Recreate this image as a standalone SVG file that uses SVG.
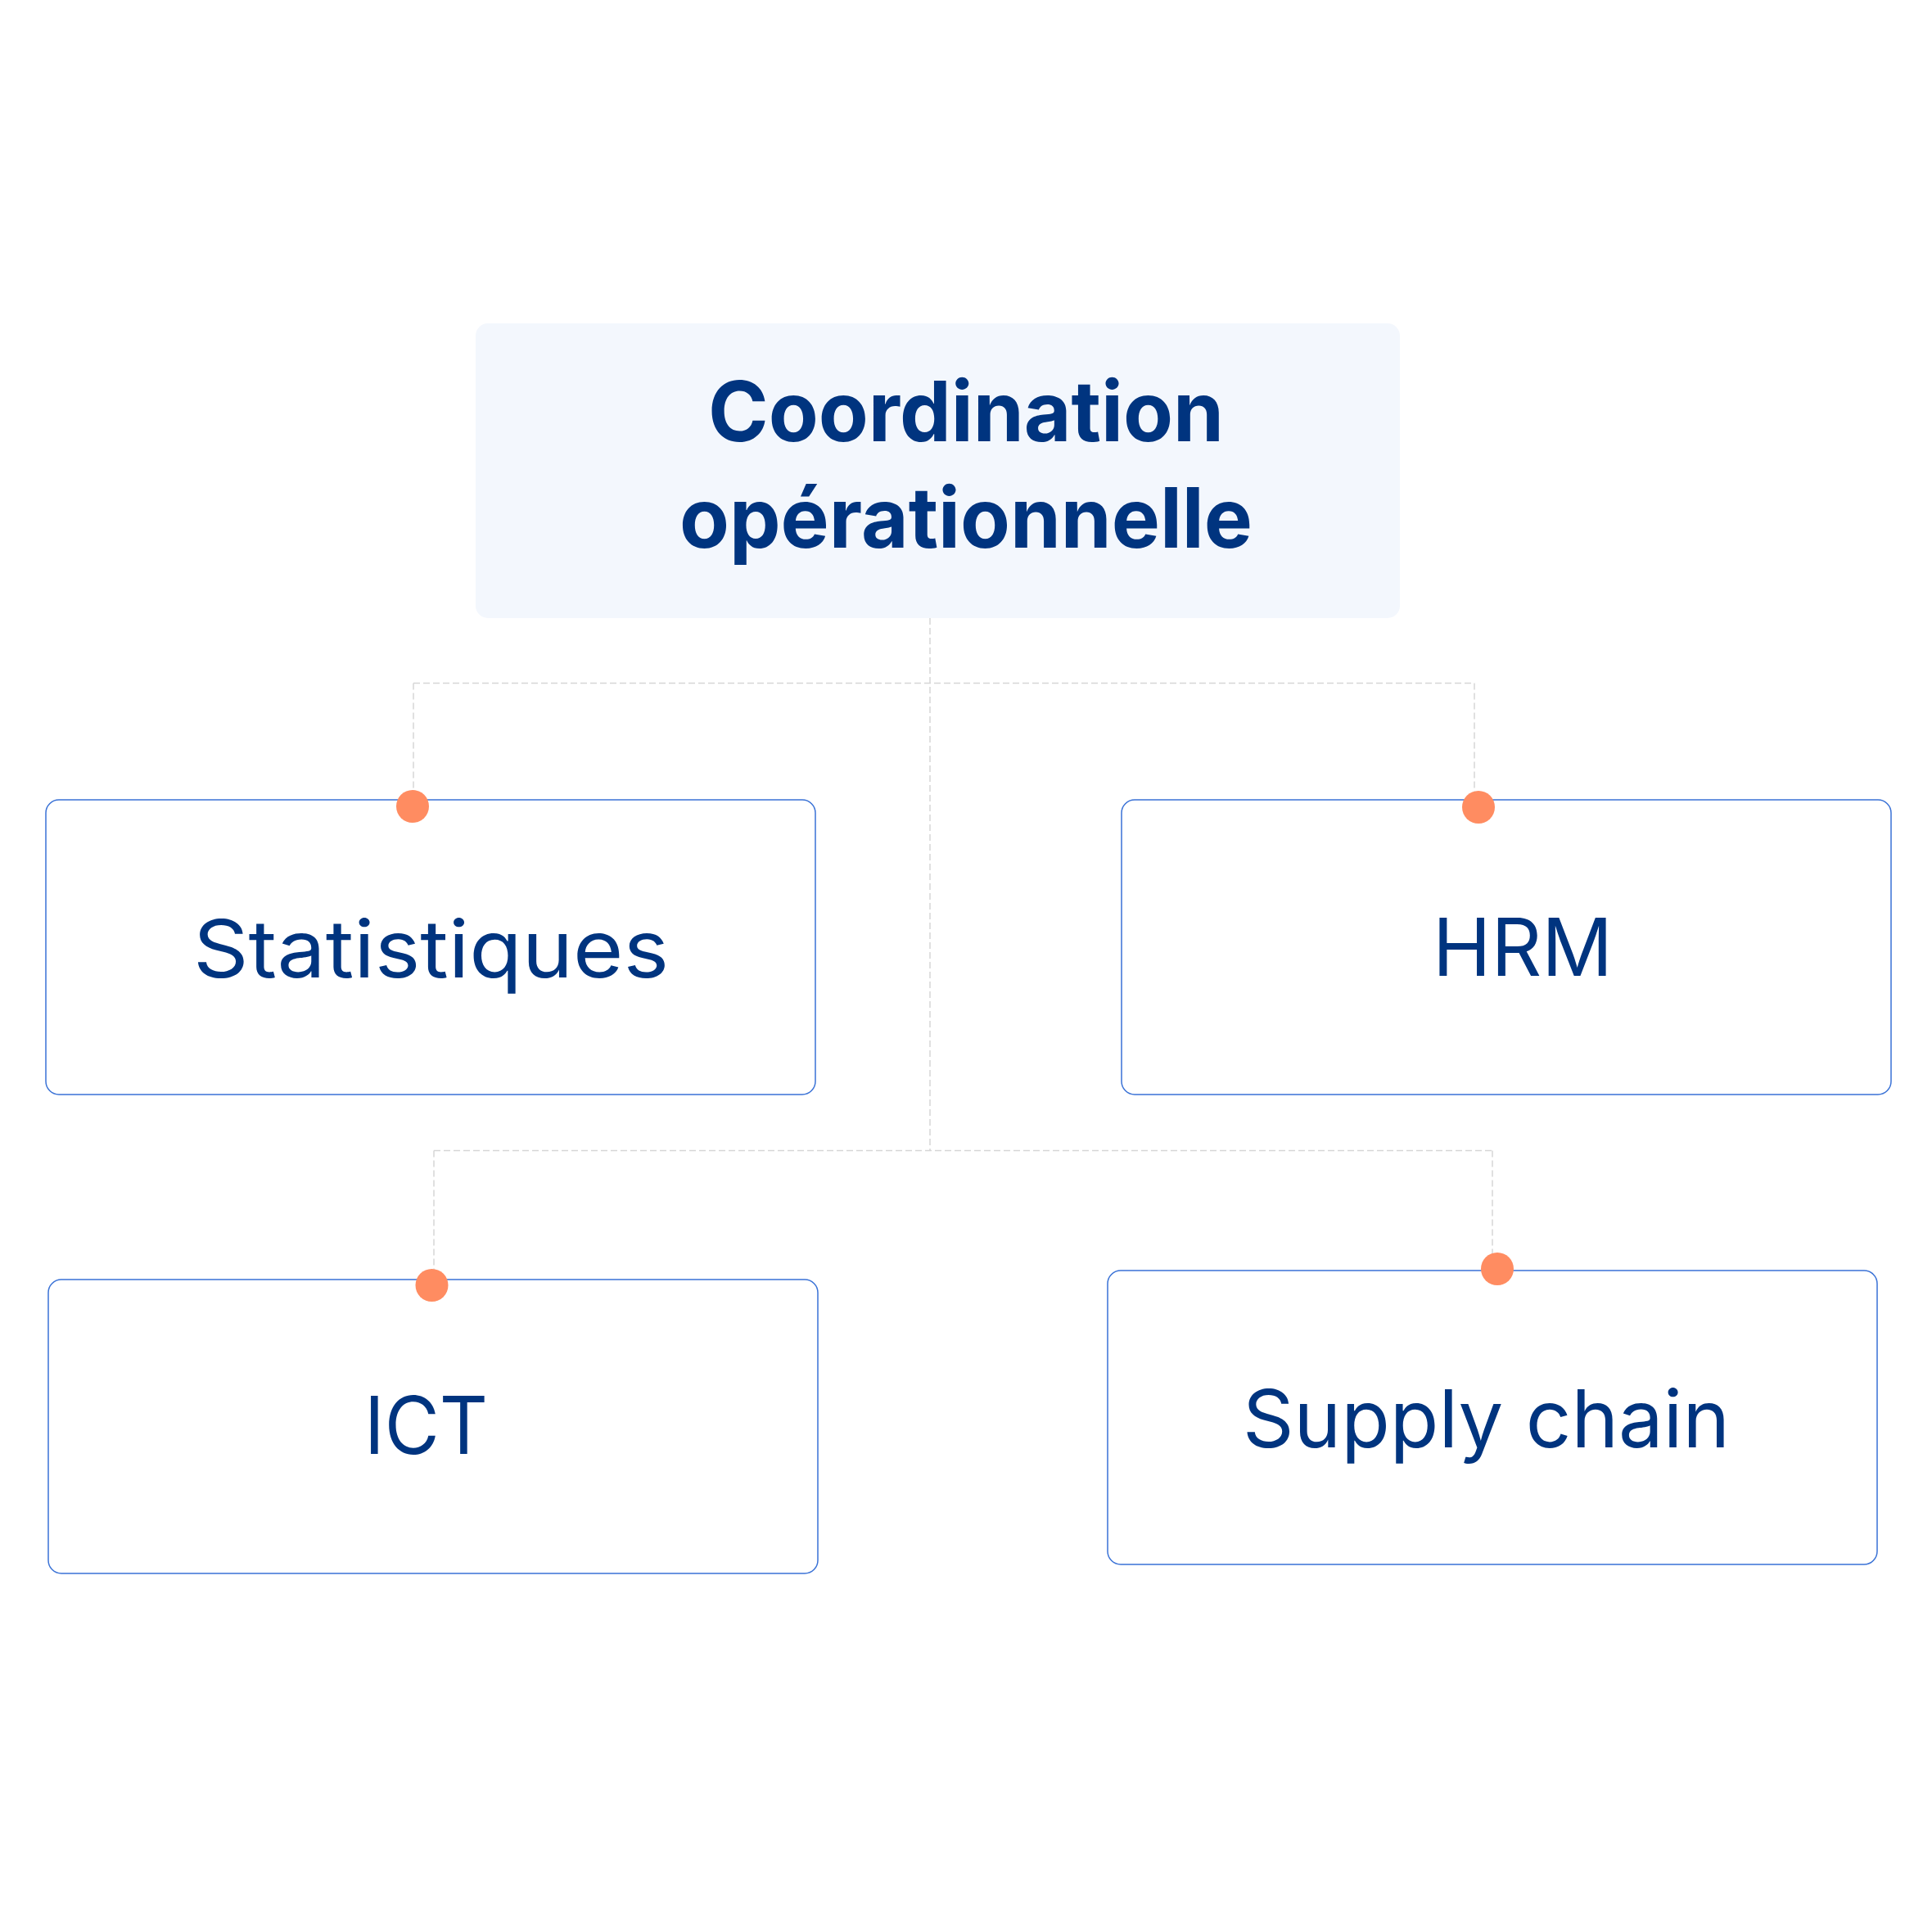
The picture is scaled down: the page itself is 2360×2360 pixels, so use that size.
<svg xmlns="http://www.w3.org/2000/svg" width="2360" height="2360" viewBox="0 0 2360 2360">
  <style>
    .box { fill: #FFFFFF; stroke: #3A72D6; stroke-width: 1.5; }
    .root { fill: #F3F7FD; }
    .lbl { font-family: Inter, "Noto Sans", "Liberation Sans", sans-serif; font-size: 97px; fill: #00347F; }
    .title { font-family: Inter, "Noto Sans", "Liberation Sans", sans-serif; font-size: 102px; font-weight: 700; fill: #00347F; }
    .conn { fill: none; stroke: #D6D6D6; stroke-width: 1.5; stroke-dasharray: 8 4; }
    .dot { fill: #FF8C61; }
  </style>
  <rect width="2360" height="2360" fill="#FFFFFF"/>

  <g id="connectors">
    <line class="conn" x1="1136" y1="755" x2="1136" y2="1405"/>
    <line class="conn" x1="505" y1="834.5" x2="1801" y2="834.5"/>
    <line class="conn" x1="505" y1="834.5" x2="505" y2="1031"/>
    <line class="conn" x1="1801" y1="834.5" x2="1801" y2="1034"/>
    <line class="conn" x1="530" y1="1405.5" x2="1823" y2="1405.5"/>
    <line class="conn" x1="530" y1="1405.5" x2="530" y2="1603"/>
    <line class="conn" x1="1823" y1="1405.5" x2="1823" y2="1607"/>
  </g>

  <g id="node-coordination">
    <rect class="root" x="581" y="395" width="1129" height="360" rx="15" ry="15"/>
    <text class="title" x="865" y="539" textLength="630" lengthAdjust="spacingAndGlyphs">Coordination</text>
    <text class="title" x="830" y="669" textLength="700" lengthAdjust="spacingAndGlyphs">opérationnelle</text>
  </g>

  <g id="node-statistiques">
    <rect class="box" x="56" y="977" width="940" height="360" rx="16" ry="16"/>
    <text class="lbl" x="236" y="1194" textLength="581" lengthAdjust="spacingAndGlyphs">Statistiques</text>
    <circle class="dot" cx="504" cy="985" r="20"/>
  </g>

  <g id="node-hrm">
    <rect class="box" x="1370" y="977" width="940" height="360" rx="16" ry="16"/>
    <text class="lbl" x="1750" y="1192" textLength="220" lengthAdjust="spacingAndGlyphs">HRM</text>
    <circle class="dot" cx="1806" cy="986" r="20"/>
  </g>

  <g id="node-ict">
    <rect class="box" x="59" y="1563" width="940" height="359" rx="16" ry="16"/>
    <text class="lbl" x="445" y="1776" textLength="151" lengthAdjust="spacingAndGlyphs">ICT</text>
    <circle class="dot" cx="527.5" cy="1570" r="20"/>
  </g>

  <g id="node-supply-chain">
    <rect class="box" x="1353" y="1552" width="940" height="359" rx="16" ry="16"/>
    <text class="lbl" x="1518" y="1768" textLength="595" lengthAdjust="spacingAndGlyphs">Supply chain</text>
    <circle class="dot" cx="1829" cy="1550" r="20"/>
  </g>
</svg>
